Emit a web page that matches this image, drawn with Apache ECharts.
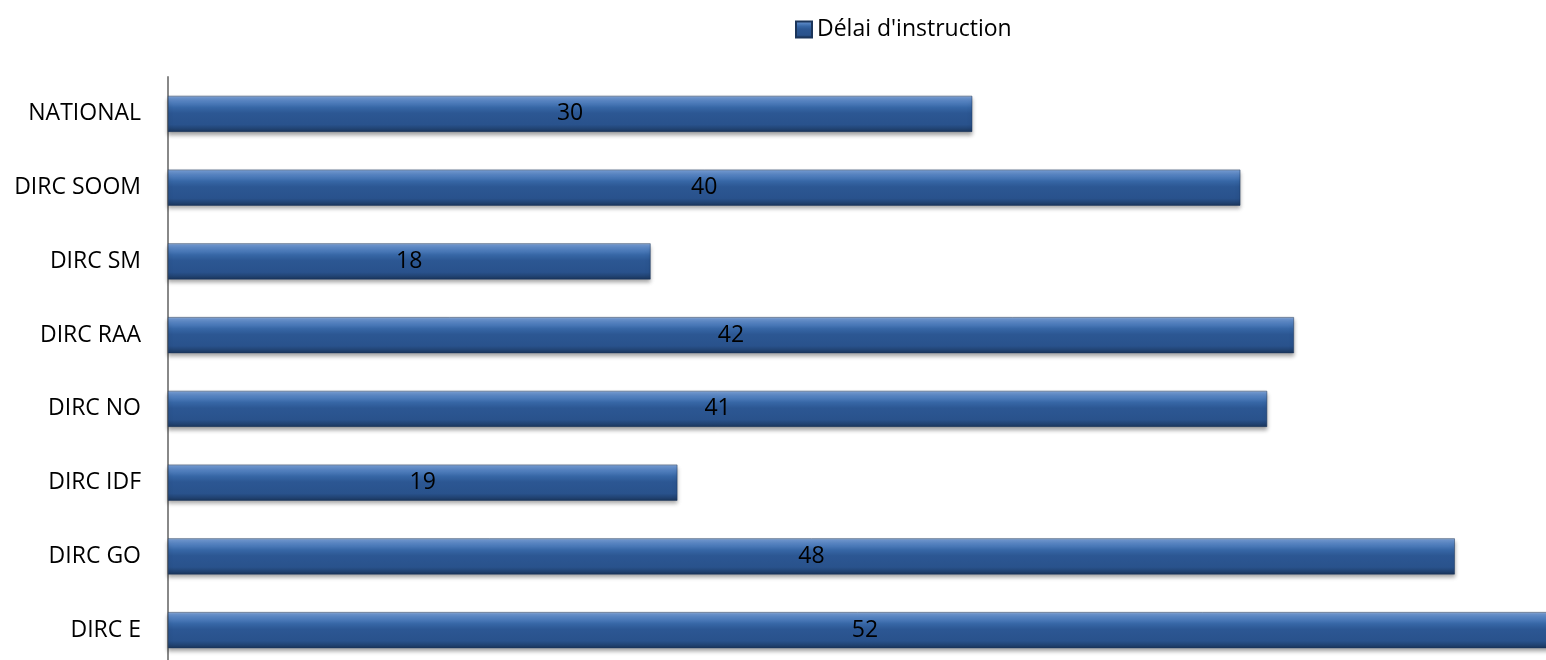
<!DOCTYPE html>
<html>
<head>
<meta charset="utf-8">
<script src="https://cdn.jsdelivr.net/npm/echarts@6/dist/echarts.min.js"></script>
<style>
html,body{margin:0;padding:0;background:#fff;}
#chart{width:1546px;height:660px;}
</style>
</head>
<body>
<div id="chart"></div>
<script>
var categories = ['NATIONAL', 'DIRC SOOM', 'DIRC SM', 'DIRC RAA', 'DIRC NO', 'DIRC IDF', 'DIRC GO', 'DIRC E'];
var delaiValues = [30, 40, 18, 42, 41, 19, 48, 52];
var seriesName = "Délai d'instruction";

var chart = echarts.init(document.getElementById('chart'));
var barGradient = new echarts.graphic.LinearGradient(0, 0, 0, 1, [
  {offset: 0, color: '#9db3d0'},
  {offset: 0.05, color: '#6d96d0'},
  {offset: 0.16, color: '#5482c1'},
  {offset: 0.32, color: '#3767a6'},
  {offset: 0.48, color: '#2c5793'},
  {offset: 0.8, color: '#29528c'},
  {offset: 0.9, color: '#224576'},
  {offset: 1, color: '#1b365c'}
]);
chart.setOption({
  animation: false,
  backgroundColor: '#ffffff',
  textStyle: {fontFamily: 'Open Sans'},
  legend: {
    left: 795,
    top: 18,
    padding: 0,
    itemWidth: 16,
    itemHeight: 16,
    itemGap: 6,
    textStyle: {fontSize: 23, color: '#000', fontFamily: 'Open Sans'},
    data: [{name: seriesName, icon: 'rect'}]
  },
  grid: {left: 168, width: 1394, top: 77, height: 590, containLabel: false, outerBoundsMode: 'none'},
  xAxis: {
    type: 'value',
    min: 0,
    max: Math.max.apply(null, delaiValues),
    show: false,
    splitLine: {show: false}
  },
  yAxis: {
    type: 'category',
    inverse: true,
    data: categories,
    axisLine: {show: true, lineStyle: {color: '#888888', width: 2}},
    axisTick: {show: false},
    axisLabel: {margin: 27, fontSize: 23, color: '#000', fontFamily: 'Open Sans'}
  },
  series: [{
    name: seriesName,
    type: 'bar',
    data: delaiValues,
    barWidth: 36,
    itemStyle: {
      color: barGradient,
      borderColor: '#1b355a',
      borderWidth: 0.5,
      shadowColor: 'rgba(0,0,0,0.35)',
      shadowBlur: 4,
      shadowOffsetY: 3
    },
    label: {
      show: true,
      position: 'inside',
      color: '#000',
      fontSize: 23,
      fontFamily: 'Open Sans'
    }
  }]
});
</script>
</body>
</html>
